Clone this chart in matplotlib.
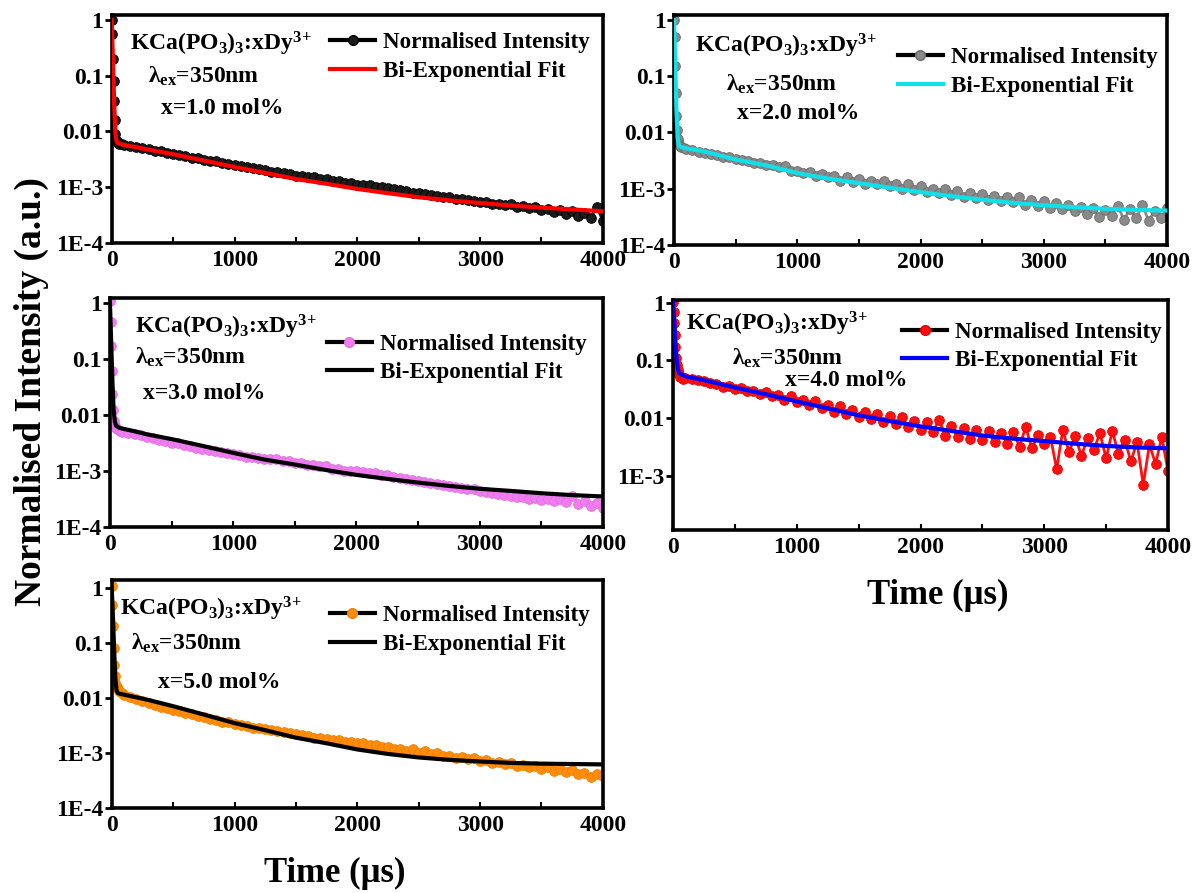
import numpy as np
import matplotlib
matplotlib.use('Agg')
import matplotlib.pyplot as plt
from matplotlib.lines import Line2D
from matplotlib.ticker import FixedLocator, MultipleLocator, NullLocator

plt.rcParams['font.family'] = 'Liberation Serif'
plt.rcParams['font.weight'] = 'bold'
plt.rcParams['mathtext.default'] = 'regular'

# sampling times (us): fast channels at the start, then every 50 us
data_t = [0, 5, 10, 15, 20, 25, 30, 40, 50, 60, 80] + list(range(100, 4001, 50))
fit_t = [0, 10, 20, 30, 40, 50, 75, 100, 200, 300, 500, 750, 1000, 1250, 1500,
         1750, 2000, 2250, 2500, 2750, 3000, 3250, 3500, 3750, 4000]

# x = 1.0 mol%
data_1 = [1.0, 0.55, 0.2, 0.08, 0.035, 0.016, 0.009, 0.0068, 0.0062, 0.006, 0.0059,
          0.0058, 0.0055, 0.0053, 0.0050, 0.0048, 0.0045, 0.0045, 0.0041, 0.0040, 0.0038,
          0.0036, 0.0034, 0.0033, 0.0031, 0.0030, 0.0029, 0.0027, 0.0026, 0.0025, 0.0024,
          0.0023, 0.0022, 0.0021, 0.0020, 0.0019, 0.0019, 0.0018, 0.0017, 0.0016, 0.0016,
          0.0015, 0.0015, 0.0014, 0.0014, 0.0013, 0.0013, 0.0012, 0.0012, 0.0011, 0.0011,
          0.0011, 0.0010, 0.0010, 0.00097, 0.00092, 0.00088, 0.00086, 0.00080, 0.00079, 0.00074,
          0.00073, 0.00070, 0.00068, 0.00066, 0.00062, 0.00061, 0.00058, 0.00057, 0.00054, 0.00055,
          0.00050, 0.00051, 0.00047, 0.00049, 0.00044, 0.00046, 0.00042, 0.00044, 0.00039, 0.00041,
          0.00036, 0.00039, 0.00033, 0.00037, 0.00030, 0.00034, 0.00028, 0.00045, 0.00025]
fit_1 = [1.0, 0.17, 0.03, 0.009, 0.0066, 0.0062, 0.0059, 0.0057, 0.0052, 0.0047, 0.0039,
         0.0030, 0.0023, 0.0018, 0.0014, 0.00115, 0.00093, 0.00078, 0.00066, 0.00058,
         0.00052, 0.00047, 0.00043, 0.00040, 0.00037]

# x = 2.0 mol%
data_2 = [1.0, 0.5, 0.15, 0.05, 0.02, 0.011, 0.0075, 0.0062, 0.0057, 0.0055, 0.0052,
          0.0050, 0.0049, 0.0045, 0.0044, 0.0041, 0.0040, 0.0037, 0.0036, 0.0034, 0.0033,
          0.0031, 0.0029, 0.0029, 0.0026, 0.0026, 0.0024, 0.0025, 0.0021, 0.0021, 0.0019,
          0.0020, 0.0017, 0.0018, 0.0016, 0.0017, 0.0014, 0.0016, 0.0013, 0.0015, 0.0012,
          0.0014, 0.0012, 0.0014, 0.0011, 0.0012, 0.0010, 0.0012, 0.00095, 0.0011, 0.00088,
          0.0010, 0.00085, 0.0010, 0.00078, 0.00090, 0.00072, 0.00085, 0.00068, 0.00082, 0.00062,
          0.00075, 0.00060, 0.00072, 0.00058, 0.00070, 0.00052, 0.00064, 0.00050, 0.00060, 0.00046,
          0.00055, 0.00044, 0.00052, 0.00040, 0.00048, 0.00036, 0.00046, 0.00031, 0.00042, 0.00033,
          0.00050, 0.00028, 0.00044, 0.00030, 0.00052, 0.00027, 0.00040, 0.00030, 0.00046]
fit_2 = [1.0, 0.15, 0.025, 0.008, 0.0058, 0.0056, 0.0054, 0.0052, 0.0048, 0.0043, 0.0033,
         0.0026, 0.0019, 0.00152, 0.00126, 0.00104, 0.00087, 0.00074, 0.00064, 0.00056,
         0.00051, 0.00047, 0.00044, 0.00042, 0.00041]

# x = 3.0 mol%
data_3 = [1.1, 0.45, 0.17, 0.06, 0.024, 0.012, 0.0078, 0.0064, 0.0058, 0.0055, 0.0052,
          0.0050, 0.0048, 0.0045, 0.0043, 0.0041, 0.0038, 0.0036, 0.0034, 0.0032, 0.0031,
          0.0029, 0.0028, 0.0026, 0.0025, 0.0024, 0.0023, 0.0022, 0.0021, 0.0020, 0.0019,
          0.0018, 0.0018, 0.0017, 0.0016, 0.0016, 0.0016, 0.0015, 0.0015, 0.0014, 0.0014,
          0.0013, 0.0013, 0.0012, 0.0012, 0.0011, 0.0011, 0.0010, 0.0010, 0.00098, 0.00096,
          0.00090, 0.00090, 0.00084, 0.00083, 0.00077, 0.00076, 0.00071, 0.00070, 0.00066, 0.00064,
          0.00060, 0.00059, 0.00056, 0.00054, 0.00051, 0.00050, 0.00047, 0.00047, 0.00044, 0.00042,
          0.00040, 0.00039, 0.00037, 0.00036, 0.00034, 0.00034, 0.00032, 0.00033, 0.00030, 0.00031,
          0.00029, 0.00032, 0.00028, 0.00036, 0.00026, 0.00029, 0.00024, 0.00027, 0.00022]
fit_3 = [1.0, 0.2, 0.04, 0.012, 0.0075, 0.0064, 0.0059, 0.0057, 0.0051, 0.0045, 0.0037,
         0.0028, 0.0021, 0.0016, 0.0013, 0.00104, 0.00085, 0.00072, 0.00062, 0.00054,
         0.00048, 0.00044, 0.00040, 0.00037, 0.00035]

# x = 4.0 mol%
data_4 = [1.05, 0.7, 0.45, 0.28, 0.17, 0.11, 0.085, 0.068, 0.058, 0.052, 0.048,
          0.050, 0.047, 0.045, 0.044, 0.040, 0.039, 0.035, 0.036, 0.032, 0.033,
          0.029, 0.030, 0.026, 0.028, 0.024, 0.025, 0.021, 0.024, 0.019, 0.021,
          0.017, 0.020, 0.015, 0.017, 0.013, 0.016, 0.012, 0.014, 0.0105, 0.013,
          0.0095, 0.012, 0.0085, 0.011, 0.0078, 0.0105, 0.0070, 0.0090, 0.0062, 0.0085,
          0.0058, 0.0092, 0.0050, 0.0072, 0.0047, 0.0068, 0.0044, 0.0062, 0.0042, 0.0060,
          0.0038, 0.0056, 0.0036, 0.0058, 0.0032, 0.0070, 0.0030, 0.0052, 0.0035, 0.0048,
          0.0013, 0.0062, 0.0026, 0.0050, 0.0022, 0.0045, 0.0028, 0.0055, 0.0020, 0.0060,
          0.0024, 0.0042, 0.0018, 0.0038, 0.0007, 0.0035, 0.0016, 0.0048, 0.0012]
fit_4 = [1.0, 0.5, 0.2, 0.1, 0.07, 0.06, 0.056, 0.053, 0.048, 0.043, 0.034,
         0.026, 0.0195, 0.0148, 0.0112, 0.0089, 0.0072, 0.0060, 0.0050, 0.0044,
         0.0040, 0.0036, 0.0033, 0.0031, 0.0030]

# x = 5.0 mol%
data_5 = [1.1, 0.5, 0.2, 0.08, 0.04, 0.025, 0.019, 0.016, 0.0145, 0.0135, 0.0125,
          0.0115, 0.0105, 0.0095, 0.0088, 0.0080, 0.0076, 0.0070, 0.0066, 0.0061, 0.0058,
          0.0054, 0.0051, 0.0047, 0.0045, 0.0042, 0.0040, 0.0037, 0.0036, 0.0034, 0.0032,
          0.0031, 0.0029, 0.0028, 0.0027, 0.0026, 0.0025, 0.0024, 0.0023, 0.0022, 0.0021,
          0.0020, 0.0019, 0.0019, 0.0018, 0.0017, 0.0017, 0.0016, 0.0016, 0.0015, 0.0015,
          0.0014, 0.0014, 0.0013, 0.0013, 0.0012, 0.0012, 0.0011, 0.0012, 0.0010, 0.0011,
          0.00094, 0.00098, 0.00088, 0.00090, 0.00082, 0.00085, 0.00077, 0.00080, 0.00072, 0.00074,
          0.00067, 0.00070, 0.00063, 0.00066, 0.00059, 0.00061, 0.00055, 0.00058, 0.00052, 0.00055,
          0.00048, 0.00051, 0.00045, 0.00049, 0.00041, 0.00044, 0.00036, 0.00042, 0.00038]
fit_5 = [1.0, 0.3, 0.07, 0.022, 0.0135, 0.0123, 0.0118, 0.0115, 0.0103, 0.0092, 0.0071,
         0.0050, 0.0035, 0.0026, 0.0019, 0.0015, 0.00116, 0.00096, 0.00083, 0.00075,
         0.00070, 0.00066, 0.00064, 0.00063, 0.00062]

conc = ['1.0', '2.0', '3.0', '4.0', '5.0']
data_sets = [data_1, data_2, data_3, data_4, data_5]
fit_sets = [fit_1, fit_2, fit_3, fit_4, fit_5]
data_colors = ['#1c1c1c', '#8a8a8a', '#f07df0', '#ff1010', '#ff8c0a']
data_edges = ['#000000', '#6a6a6a', '#e070e0', '#e80000', '#f08000']
fit_colors = ['#ff0000', '#10e0e8', '#000000', '#0000ff', '#000000']

# axes boxes in figure fraction
boxes = [[0.0935, 0.7279, 0.4110, 0.2553],
         [0.5640, 0.7256, 0.4126, 0.2576],
         [0.0920, 0.4099, 0.4126, 0.2564],
         [0.5632, 0.4065, 0.4142, 0.2576],
         [0.0935, 0.0952, 0.4110, 0.2553]]
ylims = [(1e-4, 1.22), (1e-4, 1.22), (1e-4, 1.22), (1.15e-4, 1.12), (1e-4, 1.4)]

# text anchors (axes fraction): formula, lambda line, concentration line, legend
formula_xy = [(0.037, 0.875), (0.043, 0.865), (0.05, 0.875), (0.026, 0.895), (0.017, 0.872)]
lambda_xy = [(0.074, 0.73), (0.105, 0.70), (0.05, 0.74), (0.12, 0.745), (0.04, 0.72)]
conc_xy = [(0.10, 0.59), (0.128, 0.57), (0.067, 0.585), (0.226, 0.65), (0.095, 0.55)]
legend_xy = [(0.445, 0.925), (0.454, 0.86), (0.44, 0.845), (0.463, 0.905), (0.444, 0.89)]

fs = 17
fig = plt.figure(figsize=(11.95, 8.93), dpi=100)

for i in range(5):
    ax = fig.add_axes(boxes[i])
    ax.plot(data_t, data_sets[i], color=data_colors[i], lw=2, marker='o', ms=7,
            mfc=data_colors[i], mec=data_edges[i], mew=0.6, zorder=2)
    ax.plot(fit_t, fit_sets[i], color=fit_colors[i], lw=3, zorder=3)

    ax.set_yscale('log')
    ax.set_xlim(0, 4000)
    ax.set_ylim(*ylims[i])
    ax.xaxis.set_major_locator(MultipleLocator(1000))
    ax.xaxis.set_minor_locator(MultipleLocator(500))
    ax.yaxis.set_major_locator(FixedLocator([1e-4, 1e-3, 1e-2, 1e-1, 1]))
    ax.yaxis.set_minor_locator(NullLocator())
    ax.set_yticklabels(['1E-4', '1E-3', '0.01', '0.1', '1'])
    ax.tick_params(axis='y', direction='out', length=5, width=2, labelsize=fs, pad=1)
    ax.tick_params(axis='x', which='both', direction='in', length=4, width=1.5,
                   labelsize=fs, pad=5)
    for lab in ax.get_xticklabels() + ax.get_yticklabels():
        lab.set_fontweight('bold')
    for sp in ax.spines.values():
        sp.set_linewidth(2.6)

    ax.text(*formula_xy[i], r'KCa(PO$_3$)$_3$:xDy$^{3\!+}$', transform=ax.transAxes,
            fontsize=fs, fontweight='bold', va='center')
    ax.text(*lambda_xy[i], r'$\lambda_{ex}$=350nm', transform=ax.transAxes,
            fontsize=fs, fontweight='bold', va='center')
    ax.text(*conc_xy[i], 'x=' + conc[i] + ' mol%', transform=ax.transAxes,
            fontsize=fs, fontweight='bold', va='center')

    handles = [Line2D([], [], color='black', lw=3, marker='o', ms=7,
                      mfc=data_colors[i], mec=data_edges[i]),
               Line2D([], [], color=fit_colors[i], lw=3)]
    ax.legend(handles, ['Normalised Intensity', 'Bi-Exponential Fit'],
              loc='upper left', bbox_to_anchor=legend_xy[i], frameon=False,
              prop={'family': 'Liberation Serif', 'weight': 'bold', 'size': 16.6},
              handlelength=1.95, handletextpad=0.35, labelspacing=0.32,
              borderpad=0, borderaxespad=0)

fig.text(0.026, 0.561, 'Normalised Intensity (a.u.)', rotation=90, ha='center',
         va='center', fontsize=27, fontweight='bold')
fig.text(0.280, 0.022, 'Time (\u03bcs)', ha='center', va='center', fontsize=25,
         fontweight='bold')
fig.text(0.785, 0.333, 'Time (\u03bcs)', ha='center', va='center', fontsize=25,
         fontweight='bold')

fig.savefig('out.png', dpi=100)
